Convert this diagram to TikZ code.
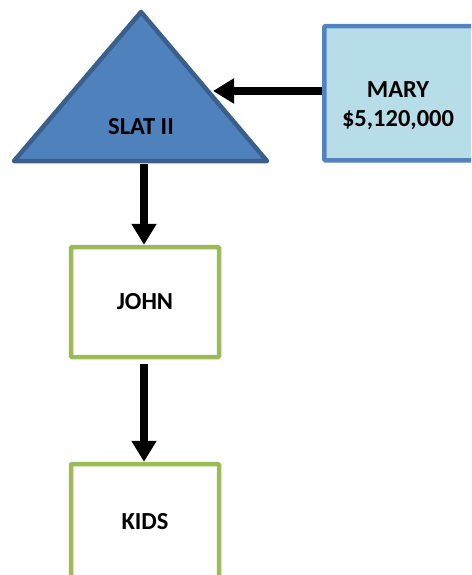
\documentclass[tikz,border=0pt]{standalone}
\usepackage{fontspec}
\setmainfont{Carlito}
\usetikzlibrary{arrows.meta}
\definecolor{triFill}{HTML}{4F81BD}
\definecolor{triLine}{HTML}{3A5F8B}
\definecolor{maryFill}{HTML}{B7DDE8}
\definecolor{maryLine}{HTML}{5283BF}
\definecolor{greenLine}{HTML}{9BBB59}
\tikzset{
  lbl/.style={font=\fontsize{24.5}{29}\selectfont\bfseries, align=center, text=black},
  greenbox/.style={draw=greenLine, line width=4.5pt, fill=white, minimum width=148pt, minimum height=110pt, inner sep=0pt, rounded corners=1pt},
  conn/.style={draw=black, line width=8pt, -{Triangle[width=24pt,length=21pt]}},
}
\begin{document}
\begin{tikzpicture}[x=1pt,y=-1pt]
\useasboundingbox (0,0) rectangle (471,575);
\clip (0,0) rectangle (471,575);
% triangle
\coordinate (apex) at (141,12);
\coordinate (bl) at (14,161);
\coordinate (br) at (267,161);
\draw[triLine, fill=triFill, line width=4.5pt, line join=round] (apex) -- (br) -- (bl) -- cycle;
\node[lbl] (slat) at (141,127) {SLAT II};
\coordinate (triright) at (213,91);
\coordinate (tribase) at (144,164);
% MARY
\node[draw=maryLine, fill=maryFill, line width=4.5pt, rounded corners=1pt, minimum width=180pt, minimum height=134pt, inner sep=0pt, anchor=north west] (marybox) at (322,24) {};
\node[lbl] (mary) at (398,106) {MARY\\\$5,120,000};
% JOHN, KIDS
\node[greenbox] (john) at (145,302) {};
\node[lbl] at (john.center) {JOHN};
\node[greenbox, minimum height=116pt] (kids) at (145,522) {};
\node[lbl] at (kids.center) {KIDS};
% connectors
\draw[conn] (marybox.west |- triright) -- (triright);
\draw[conn] (tribase) -- (tribase |- john.north);
\draw[conn] ([yshift=-5pt]john.south -| tribase) -- (tribase |- kids.north);
\end{tikzpicture}
\end{document}
